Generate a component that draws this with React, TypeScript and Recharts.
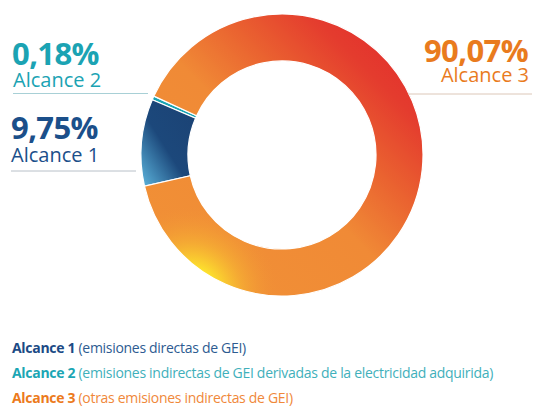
import { PieChart, Pie, Cell } from 'recharts';

// porcentajes de emisiones por alcance (orden de dibujo: alcance 2, 1, 3)
const scopes = ['Alcance 2', 'Alcance 1', 'Alcance 3'];
const shares = [0.18, 9.75, 90.07];
const fills = ['#1aa4b3', 'url(#gradA1)', 'url(#patA3)'];

const data = scopes.map((name, i) => ({ name, value: shares[i] }));

const font = '"Open Sans", sans-serif';

export default function App() {
  return (
    <div style={{ position: 'absolute', left: 0, top: 0, width: 533, height: 407, background: '#fff', fontFamily: font }}>
      <PieChart width={533} height={407}>
        <defs>
          <linearGradient id="gradA1" x1="1" y1="0" x2="0" y2="1">
            <stop offset="0%" stopColor="#1b4274" />
            <stop offset="55%" stopColor="#1c487b" />
            <stop offset="100%" stopColor="#5db6de" />
          </linearGradient>
          <linearGradient id="linA3" gradientUnits="userSpaceOnUse" x1={418} y1={9} x2={136} y2={291}>
            <stop offset="0%" stopColor="#e2242c" />
            <stop offset="20%" stopColor="#e43c2e" />
            <stop offset="36%" stopColor="#ea6330" />
            <stop offset="52%" stopColor="#f08a36" />
            <stop offset="100%" stopColor="#f19236" />
          </linearGradient>
          <radialGradient id="radA3" gradientUnits="userSpaceOnUse" cx={190} cy={294} r={88}>
            <stop offset="0%" stopColor="#fff22b" stopOpacity={1} />
            <stop offset="30%" stopColor="#fde22d" stopOpacity={1} />
            <stop offset="60%" stopColor="#f7b832" stopOpacity={0.6} />
            <stop offset="100%" stopColor="#f19236" stopOpacity={0} />
          </radialGradient>
          <pattern id="patA3" patternUnits="userSpaceOnUse" x={0} y={0} width={533} height={407}>
            <rect x={0} y={0} width={533} height={407} fill="url(#linA3)" />
            <rect x={0} y={0} width={533} height={407} fill="url(#radA3)" />
          </pattern>
        </defs>
        <Pie
          data={data}
          dataKey="value"
          nameKey="name"
          cx={277}
          cy={150}
          innerRadius={94}
          outerRadius={141}
          startAngle={155.3}
          endAngle={515.3}
          minAngle={1}
          stroke="#ffffff"
          strokeWidth={1.2}
          isAnimationActive={false}
        >
          {data.map((d, i) => (
            <Cell key={d.name} fill={fills[i]} />
          ))}
        </Pie>
      </PieChart>

      <svg width={533} height={407} style={{ position: 'absolute', left: 0, top: 0, pointerEvents: 'none' }}>
        <text x={12} y={65} fontSize={31} fontWeight={700} letterSpacing={-0.6} fill="#1ba3b3">0,18%</text>
        <text x={13} y={87} fontSize={20} fill="#1ba3b3">Alcance 2</text>
        <line x1={13} y1={93.5} x2={148} y2={93.5} stroke="#a8d0d6" strokeWidth={1} />

        <text x={11} y={139} fontSize={31} fontWeight={700} letterSpacing={-0.6} fill="#1b4f8a">9,75%</text>
        <text x={11} y={162} fontSize={20} fill="#1b4f8a">Alcance 1</text>
        <line x1={11} y1={171} x2={136} y2={171} stroke="#b8c0c8" strokeWidth={1} />

        <text x={528} y={62} fontSize={31} fontWeight={700} letterSpacing={-0.6} fill="#e97b1e" textAnchor="end">90,07%</text>
        <text x={529} y={82} fontSize={20} fill="#e97b1e" textAnchor="end">Alcance 3</text>
        <line x1={408} y1={94} x2={532} y2={94} stroke="#dcc7b8" strokeWidth={1} />

        <g fontSize={14} letterSpacing={-0.3}>
          <text x={12} y={353}>
            <tspan fontWeight={700} fill="#1b4a85">Alcance 1</tspan>
            <tspan fill="#2d5b91"> (emisiones directas de GEI)</tspan>
          </text>
          <text x={12} y={378}>
            <tspan fontWeight={700} fill="#1ba6b4">Alcance 2</tspan>
            <tspan fill="#3fb0bb"> (emisiones indirectas de GEI derivadas de la electricidad adquirida)</tspan>
          </text>
          <text x={12} y={403}>
            <tspan fontWeight={700} fill="#ec7a1c">Alcance 3</tspan>
            <tspan fill="#f0883a"> (otras emisiones indirectas de GEI)</tspan>
          </text>
        </g>
      </svg>
    </div>
  );
}
